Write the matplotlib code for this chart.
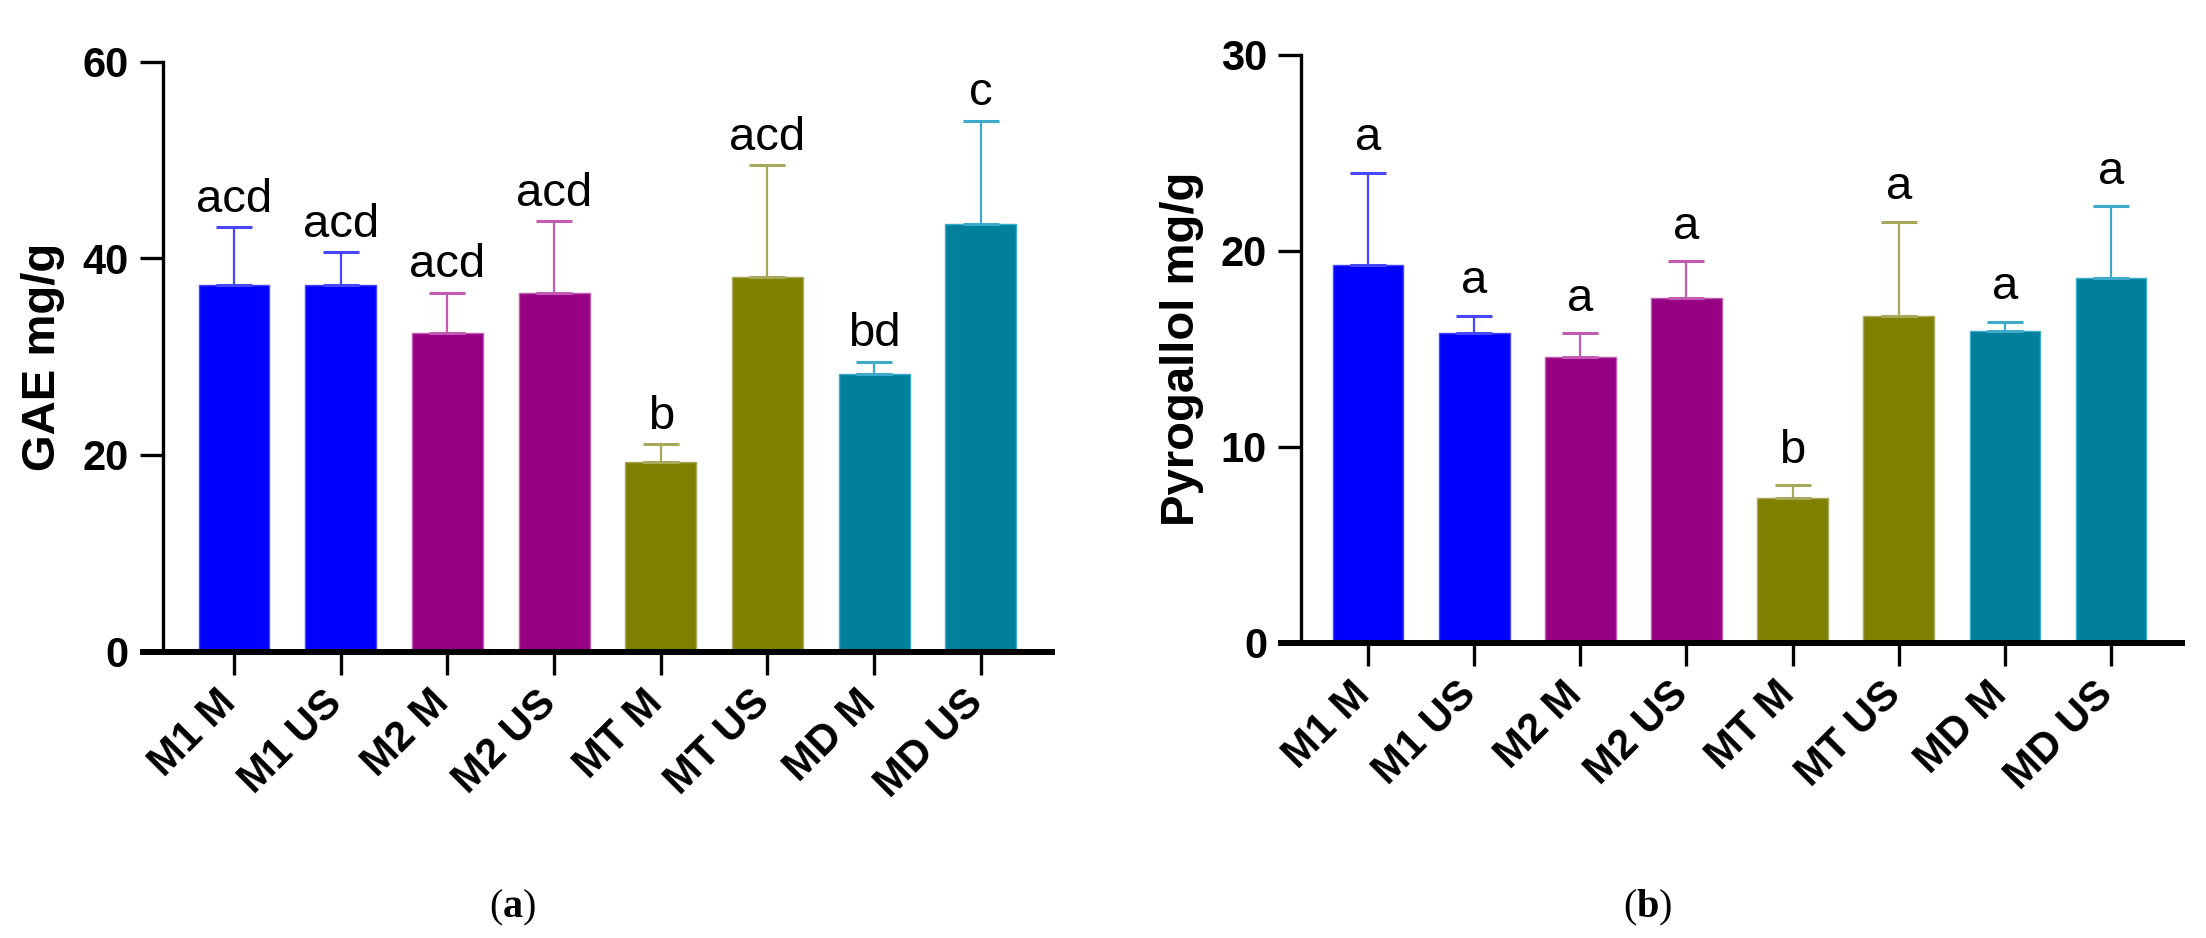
import numpy as np
import matplotlib
matplotlib.use('Agg')
import matplotlib.pyplot as plt
from matplotlib.transforms import ScaledTranslation

plt.rcParams['font.family'] = ['Liberation Sans', 'DejaVu Sans']
plt.rcParams['mathtext.fontset'] = 'custom'
plt.rcParams['mathtext.rm'] = 'Liberation Serif'
plt.rcParams['mathtext.bf'] = 'Liberation Serif:bold'

# 数据
groups = ['M1 M', 'M1 US', 'M2 M', 'M2 US', 'MT M', 'MT US', 'MD M', 'MD US']

gae_mean = [37.3, 37.3, 32.4, 36.5, 19.3, 38.1, 28.2, 43.5]
gae_sd = [5.9, 3.3, 4.1, 7.3, 1.8, 11.4, 1.3, 10.5]
gae_letters = ['acd', 'acd', 'acd', 'acd', 'b', 'acd', 'bd', 'c']

pyro_mean = [19.3, 15.8, 14.6, 17.6, 7.4, 16.7, 15.9, 18.6]
pyro_sd = [4.7, 0.9, 1.2, 1.9, 0.65, 4.8, 0.5, 3.7]
pyro_letters = ['a', 'a', 'a', 'a', 'b', 'a', 'a', 'a']

bar_colors = ['#0000ff', '#0000ff', '#960082', '#960082',
              '#808000', '#808000', '#00809a', '#00809a']
err_colors = ['#4646ff', '#4646ff', '#c25ab4', '#c25ab4',
              '#a8a85a', '#a8a85a', '#3caac8', '#3caac8']

fig = plt.figure(figsize=(22.06, 9.38), dpi=100)
ax_a = fig.add_axes([0.0739, 0.3054, 0.4043, 0.6288])
ax_b = fig.add_axes([0.5898, 0.3145, 0.4007, 0.6269])


def draw_panel(ax, means, sds, letters, ymax, step, ylabel, xlim, gap):
    x = np.arange(len(groups))
    ax.bar(x, means, width=0.665, color=bar_colors, edgecolor=err_colors,
           linewidth=1.0, zorder=2)
    for xi, m, s, c in zip(x, means, sds, err_colors):
        ax.errorbar(xi, m, yerr=[[0], [s]], fmt='none', ecolor=c,
                    elinewidth=1.6, capsize=13, capthick=2.2, zorder=3)
    for xi, m, s, t in zip(x, means, sds, letters):
        ax.annotate(t, (xi, m + s), xytext=(0, gap), textcoords='offset points',
                    ha='center', va='baseline', fontsize=34)

    ax.set_xlim(*xlim)
    ax.set_ylim(0, ymax)
    ax.set_yticks(np.arange(0, ymax + 1, step))
    ax.set_xticks(x)
    ax.set_xticklabels(groups, rotation=45, ha='right', fontsize=30,
                       fontweight='bold')
    for lab in ax.get_yticklabels():
        lab.set_fontsize(30)
        lab.set_fontweight('bold')
    ax.tick_params(axis='both', direction='out', length=16.5, width=2.4,
                   color='black', pad=8)
    ax.tick_params(axis='x', pad=6)
    for lab in ax.get_xticklabels():
        lab.set_transform(lab.get_transform() +
                          ScaledTranslation(0.10, 0, fig.dpi_scale_trans))

    ax.spines['top'].set_visible(False)
    ax.spines['right'].set_visible(False)
    ax.spines['left'].set_linewidth(2.4)
    ax.spines['bottom'].set_linewidth(4.3)
    ax.spines['bottom'].set_capstyle('butt')
    ax.spines['bottom'].set_bounds(xlim[0] - 0.22, xlim[1])
    ax.spines['bottom'].set_clip_on(False)

    ax.set_ylabel(ylabel, fontsize=34, fontweight='bold')
    ax.yaxis.set_label_coords(-0.11, 0.5)


draw_panel(ax_a, gae_mean, gae_sd, gae_letters, 60, 20, 'GAE mg/g',
           (-0.665, 7.694), 11)
draw_panel(ax_b, pyro_mean, pyro_sd, pyro_letters, 30, 10, 'Pyrogallol mg/g',
           (-0.631, 7.697), 16)

fig.text(513 / 2206, 0.032, r'($\mathbf{a}$)', ha='center', va='center',
         fontsize=29, family='Liberation Serif')
fig.text(1648 / 2206, 0.032, r'($\mathbf{b}$)', ha='center', va='center',
         fontsize=29, family='Liberation Serif')

plt.savefig('out.png', dpi=100)
